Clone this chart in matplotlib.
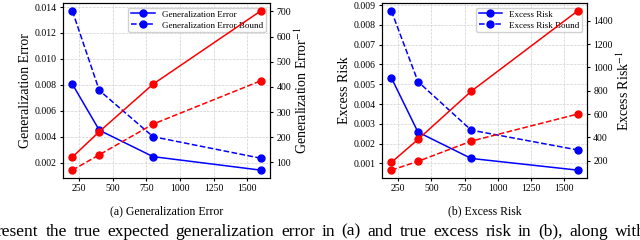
import numpy as np
import matplotlib.pyplot as plt

plt.rcParams['font.family'] = ['Liberation Serif', 'DejaVu Serif']
plt.rcParams['mathtext.fontset'] = 'stix'

n = [200, 400, 800, 1600]

# (a) generalization error
gen_err = [0.00805, 0.0045, 0.00246, 0.00142]
gen_bound = [0.0137, 0.00757, 0.0040, 0.00234]
gen_err_inv = [121, 222, 411, 702]
gen_bound_inv = [69, 130, 252, 424]

# (b) excess risk
ex_risk = [0.00532, 0.00258, 0.00125, 0.00066]
ex_bound = [0.0087, 0.00513, 0.00268, 0.00168]
ex_risk_inv = [186, 383, 795, 1483]
ex_bound_inv = [120, 195, 368, 600]

caption_line = 'resent the true expected generalization error in (a) and true excess risk in (b), along with'

fig = plt.figure(figsize=(6.4, 2.4), dpi=100)
ax1 = fig.add_axes([0.0984, 0.258, 0.3236, 0.7295])
ax2 = fig.add_axes([0.597, 0.258, 0.320, 0.7295])


def panel(ax, err, bound, err_inv, bound_inv, name, inv_label, caption):
    ax.plot(n, err, '-o', color='blue', lw=1.1, ms=5, label=name)
    ax.plot(n, bound, '--o', color='blue', lw=1.1, ms=5, label=name + ' Bound')
    ax.grid(True, ls='--', lw=0.5, color='#d0d0d0')
    ax.set_ylabel(name, fontsize=10, labelpad=2)
    ax.tick_params(labelsize=7, length=2.5, pad=2)
    ax.set_xticks([250, 500, 750, 1000, 1250, 1500])
    ax.legend(loc='upper right', fontsize=6.5, handlelength=2.6,
              borderpad=0.3, labelspacing=0.3, framealpha=0.9)

    tw = ax.twinx()
    tw.plot(n, err_inv, '-o', color='red', lw=1.1, ms=5)
    tw.plot(n, bound_inv, '--o', color='red', lw=1.1, ms=5)
    tw.set_ylabel(inv_label, fontsize=10, labelpad=2)
    tw.tick_params(labelsize=7, length=2.5, pad=2)
    pos = ax.get_position()
    fig.text((pos.x0 + pos.x1) / 2, 0.118, caption, ha='center', va='center', fontsize=8.5)


panel(ax1, gen_err, gen_bound, gen_err_inv, gen_bound_inv,
      'Generalization Error', 'Generalization Error$^{-1}$', '(a) Generalization Error')
panel(ax2, ex_risk, ex_bound, ex_risk_inv, ex_bound_inv,
      'Excess Risk', 'Excess Risk$^{-1}$', '(b) Excess Risk')
ax1.set_yticks([0.002, 0.004, 0.006, 0.008, 0.010, 0.012, 0.014])
ax1.set_yticklabels(['0.002', '0.004', '0.006', '0.008', '0.010', '0.012', '0.014'])

# justified body text line, cut at the bottom like the page crop
words = caption_line.split()
renderer = fig.canvas.get_renderer()
texts = [fig.text(0, 0.035, w, ha='left', va='center', fontsize=12.5) for w in words]
widths = [t.get_window_extent(renderer).width for t in texts]
W = fig.bbox.width
x0, x1 = -3, W + 6
gap = (x1 - x0 - sum(widths)) / (len(words) - 1)
x = x0
for t, w in zip(texts, widths):
    t.set_x(x / W)
    x += w + gap

fig.savefig('out.png', dpi=100)
